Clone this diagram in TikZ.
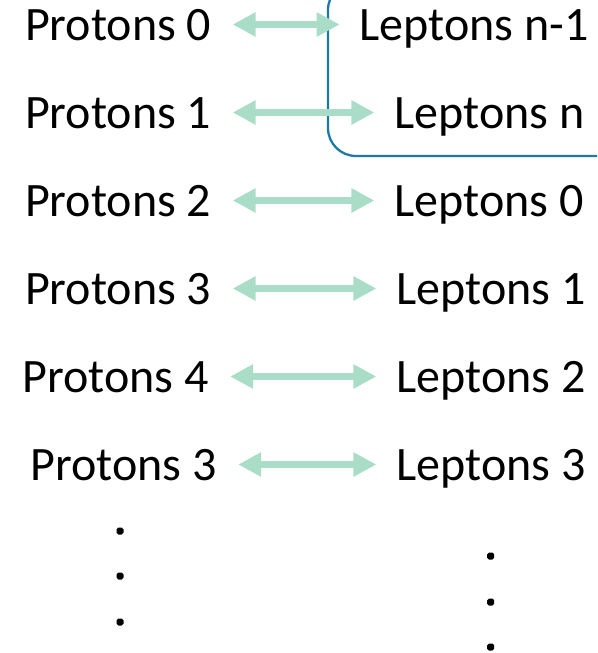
\documentclass[tikz,border=0pt]{standalone}
\usepackage{fontspec}
\setmainfont{Carlito}
\usetikzlibrary{arrows.meta}

\definecolor{mint}{RGB}{170,221,200}
\definecolor{frameblue}{RGB}{27,122,166}

\tikzset{
  label text/.style={inner sep=0pt, outer sep=0pt, anchor=base west,
    text height=31pt, text depth=0pt,
    font=\fontsize{48pt}{50pt}\selectfont},
  pairarrow/.style={draw=mint, line width=7pt,
    {Triangle[length=23pt,width=23pt]}-{Triangle[length=23pt,width=23pt]},
    shorten <=21.5pt, shorten >=20pt},
  framebox/.style={draw=frameblue, line width=2.3pt, rounded corners=28pt},
  dotmark/.style={fill=black, rounded corners=1.8pt}
}

\begin{document}
\begin{tikzpicture}[x=1pt, y=-1pt]
  \useasboundingbox (0,0) rectangle (597,653);

  % rounded frame around the top two lepton entries (runs off the page)
  \begin{scope}
    \clip (0,0) rectangle (597,653);
    \draw[framebox] (328,-18) rectangle (660,156);
  \end{scope}

  % left column
  \node[label text] (p0) at (25,40)   {Protons 0};
  \node[label text] (p1) at (25,128)  {Protons 1};
  \node[label text] (p2) at (25,216)  {Protons 2};
  \node[label text] (p3) at (25,304)  {Protons 3};
  \node[label text] (p4) at (22.5,392) {Protons 4};
  \node[label text] (p5) at (30.5,480) {Protons 3};

  % right column
  \node[label text] (l0) at (359.7,40)  {Leptons n-1};
  \node[label text] (l1) at (394.4,128) {Leptons n};
  \node[label text] (l2) at (394.4,216) {Leptons 0};
  \node[label text] (l3) at (396.4,304) {Leptons 1};
  \node[label text] (l4) at (396.4,392) {Leptons 2};
  \node[label text] (l5) at (396.4,480) {Leptons 3};

  % pairings
  \draw[pairarrow] (p0.east) -- (l0.west);
  \draw[pairarrow] (p1.east) -- (l1.west);
  \draw[pairarrow] (p2.east) -- (l2.west);
  \draw[pairarrow] (p3.east) -- (l3.west);
  \draw[pairarrow] (p4.east) -- (l4.west);
  \draw[pairarrow] (p5.east) -- (l5.west);

  % continuation dots
  \foreach \y in {531,576,622}
    \fill[dotmark] (116.5,\y-3.5) rectangle (123.5,\y+3.5);
  \foreach \y in {556,602,647}
    \fill[dotmark] (487.2,\y-3.5) rectangle (494.2,\y+3.5);
\end{tikzpicture}
\end{document}
